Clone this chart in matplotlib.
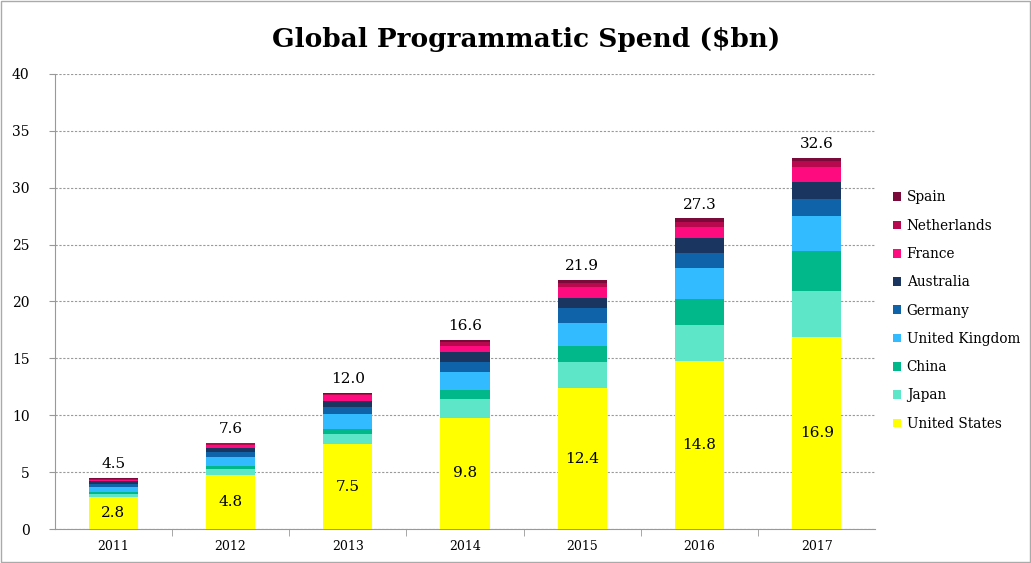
import matplotlib
matplotlib.use("Agg")
import matplotlib.pyplot as plt
import numpy as np

years = ['2011', '2012', '2013', '2014', '2015', '2016', '2017']
countries = ['United States', 'Japan', 'China', 'United Kingdom', 'Germany',
             'Australia', 'France', 'Netherlands', 'Spain']

united_states = [2.8, 4.8, 7.5, 9.8, 12.4, 14.8, 16.9]
japan = [0.3, 0.5, 0.85, 1.6, 2.3, 3.1, 4.0]
china = [0.15, 0.25, 0.45, 0.8, 1.35, 2.3, 3.5]
united_kingdom = [0.5, 0.8, 1.3, 1.6, 2.1, 2.7, 3.1]
germany = [0.25, 0.4, 0.65, 0.9, 1.3, 1.4, 1.5]
australia = [0.2, 0.35, 0.5, 0.85, 0.9, 1.3, 1.45]
france = [0.15, 0.3, 0.5, 0.55, 0.95, 0.9, 1.4]
netherlands = [0.1, 0.15, 0.15, 0.3, 0.35, 0.45, 0.45]
spain = [0.05, 0.05, 0.1, 0.2, 0.25, 0.35, 0.3]

series = [united_states, japan, china, united_kingdom, germany,
          australia, france, netherlands, spain]
colores = ['#FFFF00', '#5EE6C8', '#00B88A', '#33BBFF', '#0F63A8',
           '#1A3560', '#FF0B80', '#B8084E', '#7A0A3A']

plt.rcParams['font.family'] = ['DejaVu Serif']

fig = plt.figure(figsize=(10.31, 5.63), dpi=100)
ax = fig.add_axes([0.053, 0.060, 0.796, 0.809])

x = np.arange(len(years))
base = np.zeros(len(years))
for nombre, vals, c in zip(countries, series, colores):
    ax.bar(x, vals, 0.42, bottom=base, color=c, label=nombre, zorder=3)
    base = base + np.array(vals)

# valores de Estados Unidos dentro de la barra amarilla
for xi, v in zip(x, united_states):
    ax.text(xi, v / 2, f'{v:.1f}', ha='center', va='center', fontsize=11, zorder=4)

# totales encima
for xi, t in zip(x, base):
    ax.text(xi, t + 0.6, f'{t:.1f}', ha='center', va='bottom', fontsize=11)

ax.set_xlim(-0.5, 6.5)
ax.set_ylim(0, 40)
ax.set_yticks(range(0, 41, 5))
ax.set_xticks(x)
ax.set_xticklabels(years)
ax.set_xticks(np.arange(0.5, 6.5, 1), minor=True)
ax.tick_params(axis='x', which='major', length=0, labelsize=9, pad=8)
ax.tick_params(axis='x', which='minor', length=5, color='#999999', direction='out')
ax.tick_params(axis='y', length=4, color='#999999', labelsize=10, pad=14)
ax.yaxis.grid(True, linestyle=(0, (2, 1.5)), color='#999999', linewidth=0.8, zorder=0)

for s in ['top', 'right']:
    ax.spines[s].set_visible(False)
ax.spines['left'].set_color('#999999')
ax.spines['bottom'].set_color('#999999')

fig.text(0.51, 0.93, 'Global Programmatic Spend ($bn)', ha='center', va='center',
         fontsize=19, fontweight='bold')

h, l = ax.get_legend_handles_labels()
ax.legend(h[::-1], l[::-1], loc='center left', bbox_to_anchor=(1.015, 0.48),
          frameon=False, fontsize=9.8, handlelength=0.6, handleheight=0.6,
          handletextpad=0.4, labelspacing=1.05, borderaxespad=0)

fig.patches.append(plt.Rectangle((0.001, 0.001), 0.998, 0.998, transform=fig.transFigure,
                                 fill=False, edgecolor='#AAAAAA', linewidth=1))

fig.savefig('out.png', dpi=100)
